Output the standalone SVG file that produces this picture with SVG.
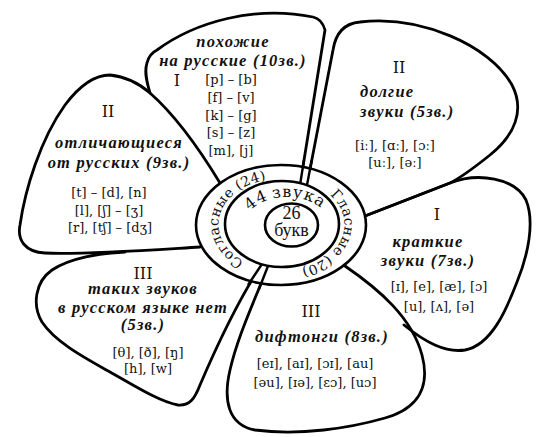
<svg xmlns="http://www.w3.org/2000/svg" width="552" height="437" viewBox="0 0 552 437">
<style>
.p{fill:none;stroke:#000;stroke-width:2.8;stroke-linejoin:round;stroke-linecap:round}
.d{fill:none;stroke:#000;stroke-width:2.4;stroke-linecap:butt}
.e{fill:#fff;stroke:#000;stroke-width:2.6}
.h{font-family:"Liberation Serif",serif;font-style:italic;font-weight:bold;font-size:16.5px;letter-spacing:1.2px;text-anchor:middle;fill:#111}
.hl{font-family:"Liberation Serif",serif;font-style:italic;font-weight:bold;font-size:16.5px;letter-spacing:1.2px;fill:#111}
.f{font-family:"DejaVu Serif",serif;font-size:13px;text-anchor:middle;fill:#111}
.n{font-family:"DejaVu Serif",serif;font-size:16px;text-anchor:middle;fill:#111}
.r{font-family:"DejaVu Serif",serif;font-size:14px;letter-spacing:0.3px;fill:#111}
.c{font-family:"Liberation Serif",serif;font-size:18px;text-anchor:middle;fill:#111}
.m{font-family:"DejaVu Serif",serif;font-size:16px;letter-spacing:1px;fill:#111}
</style>
<defs>
<path id="ringL" d="M 281.5,270.5 A 63 46 0 0 1 218.5,224.5 A 63 46 0 0 1 281.5,178.5 A 63 46 0 0 1 344.5,224.5"/>
<path id="ringR" d="M 281.5,178.5 A 63 46 0 0 1 344.5,224.5 A 63 46 0 0 1 281.5,270.5 A 63 46 0 0 1 218.5,224.5"/>
<path id="midT" d="M 243,227 A 44 30 0 0 1 287,197 A 44 30 0 0 1 331,227"/>
</defs>

<g id="petal-left-2">
<path class="p" d="M 200,247 C 150,250 80,255 45,253 C 25,252 17,240 20,225 C 25,190 40,140 65,105 C 80,85 95,75 110,75 C 130,77 142,86 150,93 C 175,115 200,150 220,183"/>
<text class="n" x="108" y="116.5">II</text>
<text class="h" x="119" y="148">отличающиеся</text>
<text class="h" x="119" y="168">от русских (9зв.)</text>
<text class="f" x="109" y="197">[t] – [d], [n]</text>
<text class="f" x="109" y="215">[l], [ʃ] – [ʒ]</text>
<text class="f" x="110" y="232">[r], [tʃ] – [dʒ]</text>
</g>

<g id="petal-top-1">
<path class="p" d="M 150,93 C 147,83 144,72 147,63 Q 149,54 157,50 C 195,22 255,5 313,17 Q 322,19 325,30 L 300,185"/>
<text class="h" x="233" y="47">похожие</text>
<text class="h" x="233" y="66">на русские (10зв.)</text>
<text class="n" x="177" y="86">I</text>
<text class="f" x="231" y="84">[p] – [b]</text>
<text class="f" x="231" y="102">[f] – [v]</text>
<text class="f" x="231" y="119.5">[k] – [g]</text>
<text class="f" x="231" y="137">[s] – [z]</text>
<text class="f" x="231" y="154.5">[m], [j]</text>
</g>

<g id="petal-right-2">
<path class="p" d="M 307,185 L 333,50 Q 337,24 360,22 C 420,15 490,45 512,85 C 525,110 515,135 490,155 C 475,167 462,177 450,183 L 365,216"/>
<text class="n" x="399" y="73">II</text>
<text class="hl" x="360" y="97">долгие</text>
<text class="hl" x="360" y="117">звуки (5зв.)</text>
<text class="f" x="395" y="150">[iː], [ɑː], [ɔː]</text>
<text class="f" x="395" y="167">[uː], [əː]</text>
</g>

<g id="petal-right-1">
<path class="p" d="M 365,216 L 450,183 C 478,172 515,178 526,200 C 535,222 528,255 517,282 C 507,308 492,345 465,350 C 445,353 425,342 404,325"/>
<text class="n" x="437" y="220">I</text>
<text class="h" x="428" y="247">краткие</text>
<text class="h" x="428" y="266">звуки (7зв.)</text>
<text class="f" x="439" y="291">[ɪ], [e], [æ], [ɔ]</text>
<text class="f" x="439" y="311">[u], [ʌ], [ə]</text>
</g>

<g id="petal-bottom-3">
<path class="p" d="M 268,266 C 255,300 238,335 230,370 C 223,400 228,425 255,430 C 300,436 350,428 385,418 C 420,408 430,385 422,355 C 412,318 380,290 345,266"/>
<text class="n" x="311" y="317">III</text>
<text class="h" x="322" y="342">дифтонги (8зв.)</text>
<text class="f" x="315" y="368">[eɪ], [aɪ], [ɔɪ], [au]</text>
<text class="f" x="315" y="387">[əu], [ɪə], [ɛɔ], [uɔ]</text>
</g>

<g id="petal-left-3">
<path class="p" d="M 125,252 C 100,253 70,258 52,270 C 35,282 32,305 42,322 C 55,342 85,358 110,372 C 135,386 160,402 178,405 C 190,406 195,398 200,385 C 215,350 235,305 262,264"/>
<text class="n" x="143" y="279">III</text>
<text class="h" x="143" y="294">таких звуков</text>
<text class="h" x="143" y="313">в русском языке нет</text>
<text class="h" x="143" y="330">(5зв.)</text>
<text class="f" x="148" y="357">[θ], [ð], [ŋ]</text>
<text class="f" x="148" y="373">[h], [w]</text>
</g>

<g id="ring">
<ellipse class="e" cx="281" cy="225" rx="85" ry="60"/>
</g>

<g id="connectors">
<line class="d" x1="304" y1="160" x2="300" y2="185"/>
<line class="d" x1="311.8" y1="160" x2="307" y2="185"/>
<line class="d" x1="262" y1="264" x2="248" y2="285"/>
<line class="d" x1="268" y1="266" x2="259" y2="289"/>
</g>

<g id="ring-labels">
<text class="r"><textPath href="#ringL" startOffset="98" text-anchor="middle">Согласные (24)</textPath></text>
<text class="r"><textPath href="#ringR" startOffset="102" text-anchor="middle">Гласные (20)</textPath></text>
</g>

<g id="sounds">
<ellipse class="e" cx="282" cy="224" rx="57" ry="43"/>
<text class="m"><textPath href="#midT" startOffset="29" text-anchor="middle">44</textPath></text>
<text class="m"><textPath href="#midT" startOffset="70" text-anchor="middle">звука</textPath></text>
</g>

<g id="letters">
<ellipse cx="291.5" cy="225" rx="26.5" ry="21.5" fill="none" stroke="#000" stroke-width="2.6"/>
<text class="c" x="291.5" y="219">26</text>
<text class="c" x="291.5" y="236">букв</text>
</g>
</svg>
